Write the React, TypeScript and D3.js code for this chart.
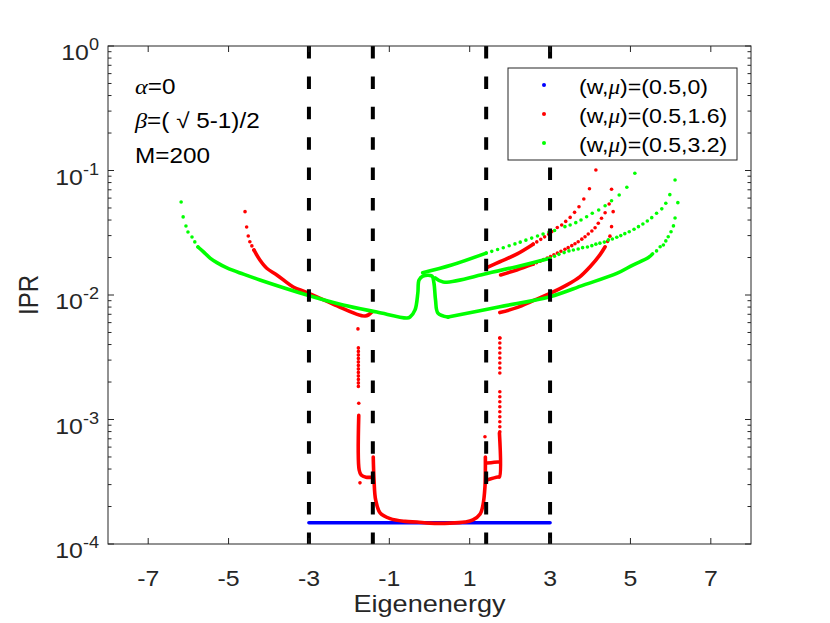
import * as d3 from "d3"

type Pt = [number, number]

// axes
const xTicks = [-7, -5, -3, -1, 1, 3, 5, 7]
const yExponents = [-4, -3, -2, -1, 0]
const boundaries = [-3, -1.41, 1.41, 3]

// (w,mu)=(0.5,0)
const blueLine: Pt[] = [[-3.0, 1.48e-4], [-1.5, 1.48e-4], [0, 1.48e-4], [1.5, 1.48e-4], [3.0, 1.48e-4]]

// (w,mu)=(0.5,1.6)
const redLeftTip: Pt[] = [[-4.59, 0.0467], [-4.55, 0.0352], [-4.51, 0.0298], [-4.47, 0.0268], [-4.42, 0.0248], [-4.37, 0.023]]
const redLeft: Pt[] = [[-4.37, 0.023], [-4.22, 0.0191], [-4.05, 0.0164], [-3.8, 0.0145], [-3.39, 0.0116], [-3.06, 0.0105], [-2.39, 0.00843], [-1.6, 0.00678], [-1.44, 0.00728]]
const redStray: Pt[] = [[-1.78, 0.00534], [-1.76, 0.00135], [-1.73, 0.00031], [1.38, 0.000727], [1.75, 0.00451]]
const redColLeftDotted: Pt[] = [[-1.77, 0.00376], [-1.77, 0.0018]]
const redColLeft: Pt[] = [[-1.76, 0.00108], [-1.75, 0.000393], [-1.7, 0.000358], [-1.58, 0.000344], [-1.43, 0.000344]]
const redCenter: Pt[] = [
  [-1.4, 0.0005], [-1.38, 0.000327], [-1.34, 0.000226], [-1.23, 0.000178], [-0.98, 0.00016], [-0.61, 0.000152],
  [-0.31, 0.00015], [0.01, 0.000147], [0.51, 0.000147], [0.88, 0.00015], [1.08, 0.000156], [1.26, 0.000174],
  [1.33, 0.000205], [1.38, 0.000287], [1.39, 0.000393], [1.39, 0.0005],
]
const redColRightDotted1: Pt[] = [[1.75, 0.00451], [1.75, 0.00236]]
const redColRightDotted2: Pt[] = [[1.75, 0.00167], [1.75, 0.00078]]
const redColRight: Pt[] = [[1.74, 0.00078], [1.74, 0.000345], [1.7, 0.000345], [1.43, 0.000327]]
const redStep: Pt[] = [[1.43, 0.000447], [1.7, 0.000456], [1.74, 0.000456]]
const redTop: Pt[] = [[1.44, 0.0167], [1.75, 0.0185], [2.17, 0.0213], [2.58, 0.0256]]
const redTopDotted: Pt[] = [[2.58, 0.0256], [3.0, 0.0314], [3.09, 0.0333]]
const redTopTip: Pt[] = [[3.18, 0.0348], [3.29, 0.0365], [3.39, 0.039], [3.5, 0.042], [3.61, 0.0461], [3.72, 0.0512], [3.84, 0.0591], [3.98, 0.0714], [4.14, 0.1009]]
const redMid: Pt[] = [[1.77, 0.0145], [2.17, 0.0159], [2.58, 0.0177]]
const redMidDotted: Pt[] = [[2.58, 0.0177], [3.0, 0.0203], [3.29, 0.0226]]
const redMidTip: Pt[] = [
  [3.37, 0.0233], [3.45, 0.024], [3.54, 0.0249], [3.62, 0.0258], [3.7, 0.0268], [3.79, 0.0281], [3.87, 0.0294],
  [3.95, 0.0309], [4.04, 0.0327], [4.12, 0.0347], [4.2, 0.0377], [4.28, 0.0413], [4.37, 0.0458], [4.47, 0.0538], [4.53, 0.0706],
]
const redLow: Pt[] = [[1.75, 0.00722], [2.17, 0.00792], [2.58, 0.009], [3.0, 0.0103], [3.41, 0.012], [3.74, 0.014], [3.99, 0.0168], [4.24, 0.021], [4.37, 0.0244]]
const redLowTip: Pt[] = [[4.43, 0.0269], [4.49, 0.0297], [4.53, 0.0354], [4.57, 0.0467]]

// (w,mu)=(0.5,3.2)
const greenLeftTip: Pt[] = [[-6.18, 0.0558], [-6.13, 0.0424], [-6.06, 0.0358], [-6.01, 0.0321], [-5.91, 0.0292], [-5.84, 0.0267], [-5.76, 0.0243]]
const greenLeft: Pt[] = [
  [-5.76, 0.0243], [-5.63, 0.0223], [-5.46, 0.0198], [-5.29, 0.0182], [-5.04, 0.0165], [-4.63, 0.0147], [-4.22, 0.0132],
  [-3.05, 0.01], [-2.15, 0.00831], [-1.31, 0.00729], [-0.56, 0.00653], [-0.485, 0.00665], [-0.36, 0.00759], [-0.29, 0.0104],
  [-0.26, 0.0132], [-0.16, 0.0142], [0.06, 0.0142], [0.11, 0.0125], [0.15, 0.00912], [0.21, 0.00716], [0.46, 0.00665],
]
const greenLow: Pt[] = [[0.46, 0.00665], [1.75, 0.00805], [3.0, 0.00969], [3.83, 0.012], [4.66, 0.0149], [5.06, 0.0174], [5.44, 0.0199], [5.55, 0.0214]]
const greenLowTip: Pt[] = [[5.65, 0.0226], [5.74, 0.0244], [5.82, 0.0252], [5.88, 0.0272], [5.94, 0.0294], [6.01, 0.0322], [6.07, 0.0359], [6.11, 0.0415], [6.18, 0.0552]]
const greenMid: Pt[] = [[0.14, 0.0137], [0.34, 0.0127], [1.43, 0.0149], [2.17, 0.0169], [3.0, 0.0197]]
const greenMidTip: Pt[] = [
  [3.11, 0.0205], [3.22, 0.0212], [3.35, 0.0219], [3.47, 0.0226], [3.58, 0.023], [3.7, 0.0234], [3.81, 0.024], [3.93, 0.0243],
  [4.04, 0.0249], [4.14, 0.0256], [4.24, 0.0261], [4.35, 0.0266], [4.45, 0.0277], [4.55, 0.0282], [4.66, 0.0291], [4.76, 0.03],
  [4.86, 0.0311], [4.97, 0.0322], [5.09, 0.0337], [5.2, 0.0354], [5.31, 0.0372], [5.42, 0.0393], [5.53, 0.0418], [5.65, 0.0453],
  [5.78, 0.0492], [5.88, 0.0545], [5.98, 0.064], [6.11, 0.0839],
]
const greenTop: Pt[] = [[-0.17, 0.0151], [0.55, 0.0174], [1.41, 0.0217]]
const greenTopDotted: Pt[] = [[1.41, 0.0217], [2.17, 0.026], [3.0, 0.0322], [3.25, 0.0339]]
const greenTopTip: Pt[] = [
  [3.37, 0.0354], [3.5, 0.0365], [3.64, 0.0381], [3.77, 0.04], [3.91, 0.0425], [4.05, 0.0453], [4.21, 0.0482],
  [4.37, 0.0521], [4.53, 0.0572], [4.72, 0.0636], [4.91, 0.0734], [5.11, 0.095],
]

const legendLabels = ["0", "1.6", "3.2"]
const legendColors = ["#0000ff", "#ff0000", "#00ff00"]

const W = 830
const H = 623
const x = d3.scaleLinear().domain([-8, 8]).range([108, 751])
const y = d3.scaleLog().domain([1e-4, 1]).range([544, 46])
const line = d3
  .line<Pt>()
  .x((d) => x(d[0]))
  .y((d) => y(d[1]))
  .curve(d3.curveCatmullRom.alpha(0.5))

const SANS = "'Liberation Sans', Arial, Helvetica, sans-serif"
const SERIF = "'Liberation Serif', 'Times New Roman', serif"
const SX = 1.13
const INK = "#262626"
const LW = 3.6

function Dense({ pts, color }: { pts: Pt[]; color: string }) {
  return <path d={line(pts) || ""} fill="none" stroke={color} strokeWidth={LW} strokeLinecap="round" strokeLinejoin="round" />
}

function Dotted({ pts, color, gap }: { pts: Pt[]; color: string; gap: number }) {
  return (
    <path
      d={line(pts) || ""}
      fill="none"
      stroke={color}
      strokeWidth={LW}
      strokeLinecap="round"
      strokeDasharray={`0,${gap}`}
    />
  )
}

function Dots({ pts, color }: { pts: Pt[]; color: string }) {
  return (
    <g fill={color}>
      {pts.map((d, i) => (
        <circle key={i} cx={x(d[0])} cy={y(d[1])} r={LW / 2} />
      ))}
    </g>
  )
}

export default function App() {
  const minorTicks = y.ticks().filter((v) => Math.abs(Math.log10(v) - Math.round(Math.log10(v))) > 1e-6)
  const [x0, x1] = x.range()
  const [yb, yt] = y.range()

  return (
    <div style={{ position: "absolute", left: 0, top: 0 }}>
      <svg width={W} height={H} style={{ display: "block", background: "#fff" }}>
        {/* data */}
        <Dense pts={blueLine} color="#0000ff" />

        <g>
          <Dots pts={redLeftTip} color="#ff0000" />
          <Dense pts={redLeft} color="#ff0000" />
          <Dots pts={redStray} color="#ff0000" />
          <Dotted pts={redColLeftDotted} color="#ff0000" gap={3.5} />
          <Dense pts={redColLeft} color="#ff0000" />
          <Dense pts={redCenter} color="#ff0000" />
          <Dotted pts={redColRightDotted1} color="#ff0000" gap={5} />
          <Dotted pts={redColRightDotted2} color="#ff0000" gap={5} />
          <Dense pts={redColRight} color="#ff0000" />
          <Dense pts={redStep} color="#ff0000" />
          <Dense pts={redTop} color="#ff0000" />
          <Dotted pts={redTopDotted} color="#ff0000" gap={4.5} />
          <Dots pts={redTopTip} color="#ff0000" />
          <Dense pts={redMid} color="#ff0000" />
          <Dotted pts={redMidDotted} color="#ff0000" gap={3.8} />
          <Dots pts={redMidTip} color="#ff0000" />
          <Dense pts={redLow} color="#ff0000" />
          <Dots pts={redLowTip} color="#ff0000" />
        </g>

        <g>
          <Dots pts={greenLeftTip} color="#00ff00" />
          <Dense pts={greenLeft} color="#00ff00" />
          <Dense pts={greenLow} color="#00ff00" />
          <Dots pts={greenLowTip} color="#00ff00" />
          <Dense pts={greenMid} color="#00ff00" />
          <Dots pts={greenMidTip} color="#00ff00" />
          <Dense pts={greenTop} color="#00ff00" />
          <Dotted pts={greenTopDotted} color="#00ff00" gap={6} />
          <Dots pts={greenTopTip} color="#00ff00" />
        </g>

        {/* band edges */}
        {boundaries.map((b) => (
          <line key={b} x1={x(b)} x2={x(b)} y1={yt} y2={yb} stroke="#000" strokeWidth={4} strokeDasharray="12.5,17.9" />
        ))}

        {/* axes box and ticks */}
        <rect x={x0} y={yt} width={x1 - x0} height={yb - yt} fill="none" stroke={INK} strokeWidth={1} />
        <g stroke={INK} strokeWidth={1}>
          {xTicks.map((t) => (
            <g key={t}>
              <line x1={x(t)} x2={x(t)} y1={yb} y2={yb - 6} />
              <line x1={x(t)} x2={x(t)} y1={yt} y2={yt + 6} />
            </g>
          ))}
          {yExponents.map((k) => (
            <g key={k}>
              <line x1={x0} x2={x0 + 6} y1={y(10 ** k)} y2={y(10 ** k)} />
              <line x1={x1} x2={x1 - 6} y1={y(10 ** k)} y2={y(10 ** k)} />
            </g>
          ))}
          {minorTicks.map((v, i) => (
            <g key={i}>
              <line x1={x0} x2={x0 + 3.5} y1={y(v)} y2={y(v)} />
              <line x1={x1} x2={x1 - 3.5} y1={y(v)} y2={y(v)} />
            </g>
          ))}
        </g>

        {/* tick labels */}
        <g fill={INK} fontFamily={SANS} fontSize={22}>
          {xTicks.map((t) => (
            <text key={t} textAnchor="middle" transform={`translate(${x(t)},586) scale(${SX},1)`}>
              {t}
            </text>
          ))}
          {yExponents.map((k) => (
            <text key={k} textAnchor="end" transform={`translate(99,${y(10 ** k) + 14})  scale(${SX},1)`}>
              10
              <tspan fontSize={16} dy={-10}>
                {k}
              </tspan>
            </text>
          ))}
        </g>

        {/* axis labels */}
        <text fill={INK} fontFamily={SANS} fontSize={24} textAnchor="middle" transform={`translate(${(x0 + x1) / 2},612) scale(${SX},1)`}>
          Eigenenergy
        </text>
        <text fill={INK} fontFamily={SANS} fontSize={24} textAnchor="middle" transform={`translate(38,${(yt + yb) / 2}) rotate(-90) scale(1,${SX})`}>
          IPR
        </text>

        {/* parameters */}
        <g fill="#000" fontFamily={SANS} fontSize={21.5}>
          <text transform={`translate(135,94) scale(${SX},1)`}>
            <tspan fontFamily={SERIF} fontStyle="italic">α</tspan>=0
          </text>
          <text transform={`translate(135,128) scale(${SX},1)`}>
            <tspan fontFamily={SERIF} fontStyle="italic">β</tspan>=( √ 5-1)/2
          </text>
          <text transform={`translate(135,163) scale(${SX},1)`}>M=200</text>
        </g>

        {/* legend */}
        <g>
          <rect x={508} y={68} width={229} height={92} fill="#fff" stroke={INK} strokeWidth={1} />
          {legendLabels.map((m, i) => (
            <g key={m}>
              <circle cx={544} cy={85 + i * 29} r={2} fill={legendColors[i]} />
              <text fill="#000" fontFamily={SANS} fontSize={21} transform={`translate(579,${93.5 + i * 29}) scale(1.1,1)`}>
                (w,<tspan fontFamily={SERIF} fontStyle="italic">μ</tspan>)=(0.5,{m})
              </text>
            </g>
          ))}
        </g>
      </svg>
    </div>
  )
}
